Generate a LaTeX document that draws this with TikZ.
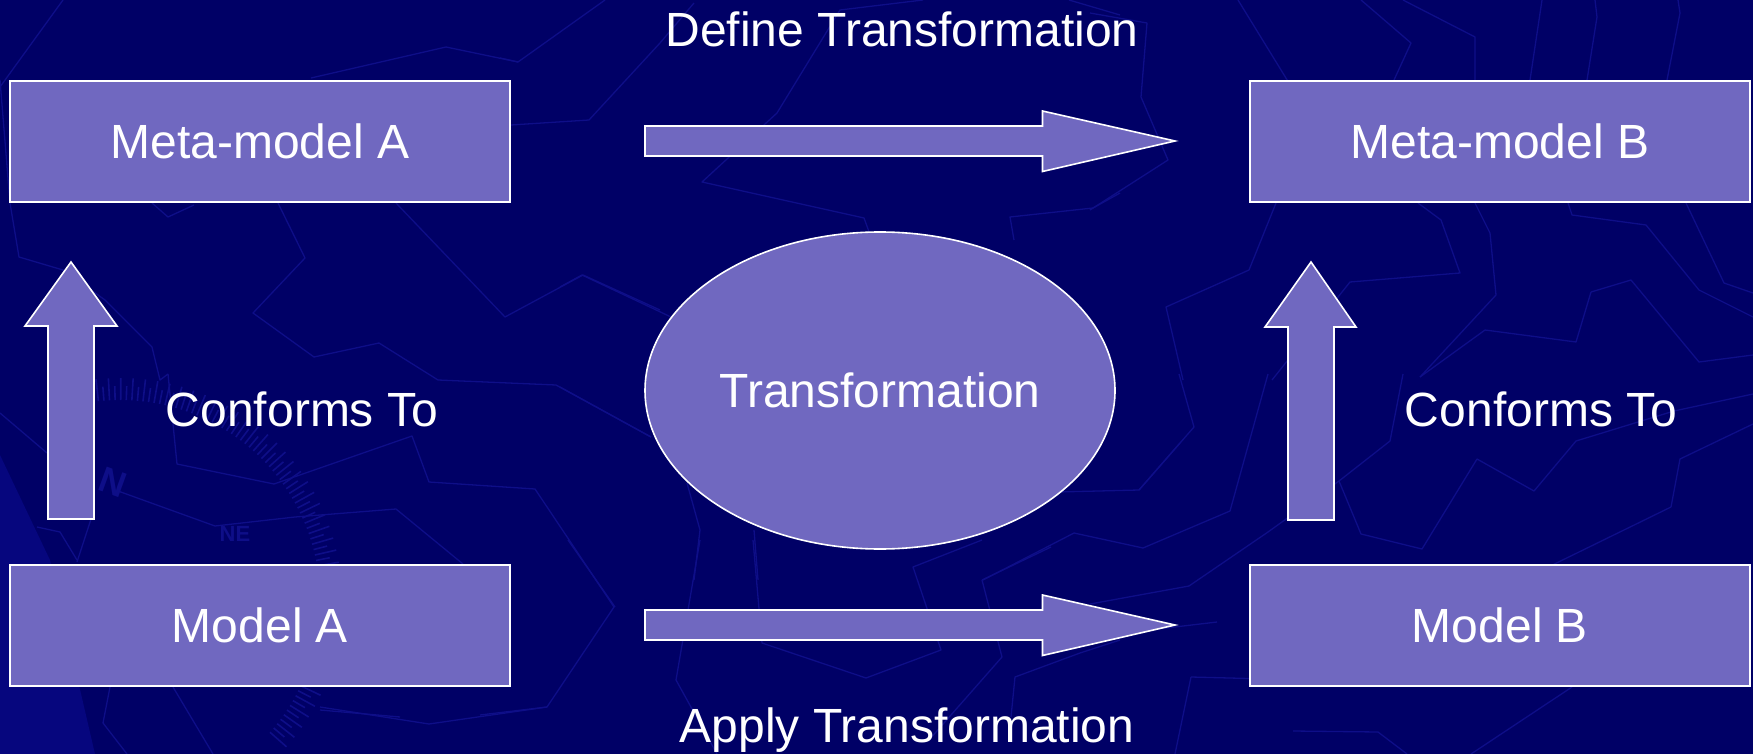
\documentclass[tikz,border=0pt]{standalone}
\usepackage{fontspec}
\setmainfont{Liberation Sans}
\usetikzlibrary{shapes.geometric}
\definecolor{slidebg}{RGB}{0,0,102}
\definecolor{bgline}{RGB}{14,14,136}
\definecolor{bgwedge}{RGB}{6,6,126}
\definecolor{boxfill}{RGB}{112,104,192}
\tikzset{
  bigtext/.style={font=\fontsize{48}{58}\selectfont, text=white},
  box/.style={draw=white, line width=1.6pt, fill=boxfill, bigtext,
    minimum width=500pt, minimum height=121pt, inner sep=0pt,
    text height=34.4pt, text depth=0pt},
  blob/.style={ellipse, draw=white, line width=1.6pt, fill=boxfill, bigtext,
    minimum width=470pt, minimum height=317pt, inner sep=0pt,
    text height=34.4pt, text depth=0pt},
  caption/.style={bigtext, anchor=base, inner sep=0pt},
  blockarrow/.style={draw=white, line width=1.6pt, fill=boxfill, line join=miter},
  bgpath/.style={draw=bgline, line width=1.3pt, line join=round},
  dialmark/.style={text=bgline, inner sep=0pt},
}
\begin{document}
\begin{tikzpicture}[x=1pt, y=-1pt]
\useasboundingbox (0,0) rectangle (1753,754);
\fill[slidebg] (0,0) rectangle (1753,754);

% background texture of the slide
\fill[bgwedge] (0,455) -- (50,560) -- (95,754) -- (0,754) -- cycle;
\begin{scope}[bgpath]
  \draw (63,0) -- (0,87);
  \draw (311,78) -- (446,47) -- (518,62) -- (605,0);
  \draw (500,58) -- (518,62);
  \draw (0,80) -- (10,203) -- (19,257) -- (63,270) -- (105,300) -- (152,347) -- (160,380) -- (168,374);
  \draw (168,374) -- (177,464) -- (274,484) -- (412,436) -- (429,482) -- (535,489) -- (614,607) -- (547,707) -- (429,724) -- (320,707);
  \draw (547,707) -- (480,715);
  \draw (278,203) -- (305,258) -- (253,313) -- (314,357) -- (379,343) -- (438,380) -- (556,385) -- (651,437);
  \draw (396,203) -- (505,317) -- (583,275) -- (660,310);
  \draw (152,203) -- (168,217) -- (194,205);
  \draw (511,125) -- (589,120) -- (660,43) -- (694,3);
  \draw (923,0) -- (840,10) -- (777,113) -- (702,182) -- (864,218) -- (872,240);
  \draw (1069,0) -- (1120,15);
  \draw (1120,193) -- (1093,208) -- (1010,217) -- (1014,240);
  \draw (560,287) -- (582,275) -- (671,317);
  \draw (560,387) -- (651,437);
  \draw (687,483) -- (700,530) -- (694,580);
  \draw (754,530) -- (758,580);
  \draw (1058,492) -- (1139,490) -- (1194,427) -- (1179,374);
  \draw (1139,490) -- (1180,443);
  \draw (983,580) -- (1074,533) -- (1143,548) -- (1230,511) -- (1268,374);
  \draw (568,540) -- (615,607);
  \draw (700,540) -- (676,680) -- (717,754);
  \draw (753,540) -- (762,643) -- (866,678) -- (941,650) -- (913,567) -- (982,540);
  \draw (982,580) -- (1002,657) -- (929,740);
  \draw (982,580) -- (1051,547);
  \draw (1120,640) -- (1080,653) -- (1015,677) -- (1011,717);
  \draw (118,491) -- (215,526) -- (295,517) -- (396,509) -- (463,564);
  \draw (0,413) -- (47,453);
  \draw (37,527) -- (60,532) -- (77,560);
  \draw (93,513) -- (77,562);
  \draw (110,687) -- (103,723) -- (127,754);
  \draw (173,687) -- (213,754);
  \draw (320,710) -- (400,717);
  \draw (1238,0) -- (1289,83);
  \draw (1361,0) -- (1411,43) -- (1394,80);
  \draw (1403,0) -- (1475,37) -- (1475,80);
  \draw (1542,0) -- (1530,80);
  \draw (1595,0) -- (1597,17) -- (1587,80);
  \draw (1678,0) -- (1680,13) -- (1667,80);
  \draw (1090,13) -- (1147,23) -- (1141,97) -- (1168,160) -- (1090,210);
  \draw (1276,203) -- (1249,270) -- (1166,307) -- (1183,380);
  \draw (1418,203) -- (1441,220) -- (1460,273) -- (1350,282) -- (1272,380);
  \draw (1475,203) -- (1490,233) -- (1496,295) -- (1420,377);
  \draw (1568,203) -- (1572,215) -- (1646,225) -- (1699,290) -- (1753,317);
  \draw (1591,292) -- (1576,342) -- (1485,330) -- (1420,377);
  \draw (1591,292) -- (1631,280) -- (1699,362) -- (1753,355);
  \draw (1686,203) -- (1724,283) -- (1753,293);
  \draw (1339,481) -- (1361,534) -- (1422,549) -- (1477,459) -- (1534,491) -- (1576,441) -- (1674,411) -- (1753,394);
  \draw (1339,481) -- (1390,441) -- (1403,374);
  \draw (1671,507) -- (1680,459) -- (1753,424);
  \draw (1671,507) -- (1534,574);
  \draw (1090,604) -- (1189,586) -- (1268,532) -- (1339,481);
  \draw (1217,622) -- (1090,637);
  \draw (1191,677) -- (1268,679);
  \draw (1191,677) -- (1175,754);
  \draw (1293,731) -- (1378,732) -- (1407,754);
  \draw (1471,754) -- (1572,687);
\end{scope}
% compass dial of the background
\begin{scope}[shift={(120,600)}]
  \foreach \a [count=\i] in {-101,-99.4,...,42}
    \draw[bgline, line width=1.6pt] (\a:200) -- (\a:{ifthenelse(mod(\i,2)==0,222,214)});
  \node[dialmark, font=\bfseries\fontsize{36}{36}\selectfont, rotate=-20] (dialn) at (-7,-118) {N};
  \node[dialmark, font=\bfseries\fontsize{22}{22}\selectfont] (dialne) at (115,-66) {NE};
\end{scope}

% models and meta-models
\node[box] (metaA) at (260,141.5) {Meta-model A};
\node[box] (metaB) at (1500,141.5) {Meta-model B};
\node[box] (modelA) at (260,625.5) {Model A};
\node[box] (modelB) at (1500,625.5) {Model B};
\node[blob] (trans) at (880,390.5) {Transformation};

% block arrows between them
\draw[blockarrow] (645,126) -- (1042.5,126) -- (1042.5,111) -- (1175,141)
  -- (1042.5,171.5) -- (1042.5,156) -- (645,156) -- cycle;
\draw[blockarrow] (645,610) -- (1042.5,610) -- (1042.5,595) -- (1175,625)
  -- (1042.5,655.5) -- (1042.5,640) -- (645,640) -- cycle;
\draw[blockarrow] (48,519) -- (48,326) -- (25,326) -- (71,262) -- (117,326)
  -- (94,326) -- (94,519) -- cycle;
\draw[blockarrow] (1288,520) -- (1288,327) -- (1265,327) -- (1311,262) -- (1356,327)
  -- (1334,327) -- (1334,520) -- cycle;

% captions
\node[caption] (deftxt) at (902,47) {Define Transformation};
\node[caption] (applytxt) at (907,742) {Apply Transformation};
\node[caption] (confA) at (302,426) {Conforms To};
\node[caption] (confB) at (1541,426) {Conforms To};
\end{tikzpicture}
\end{document}
